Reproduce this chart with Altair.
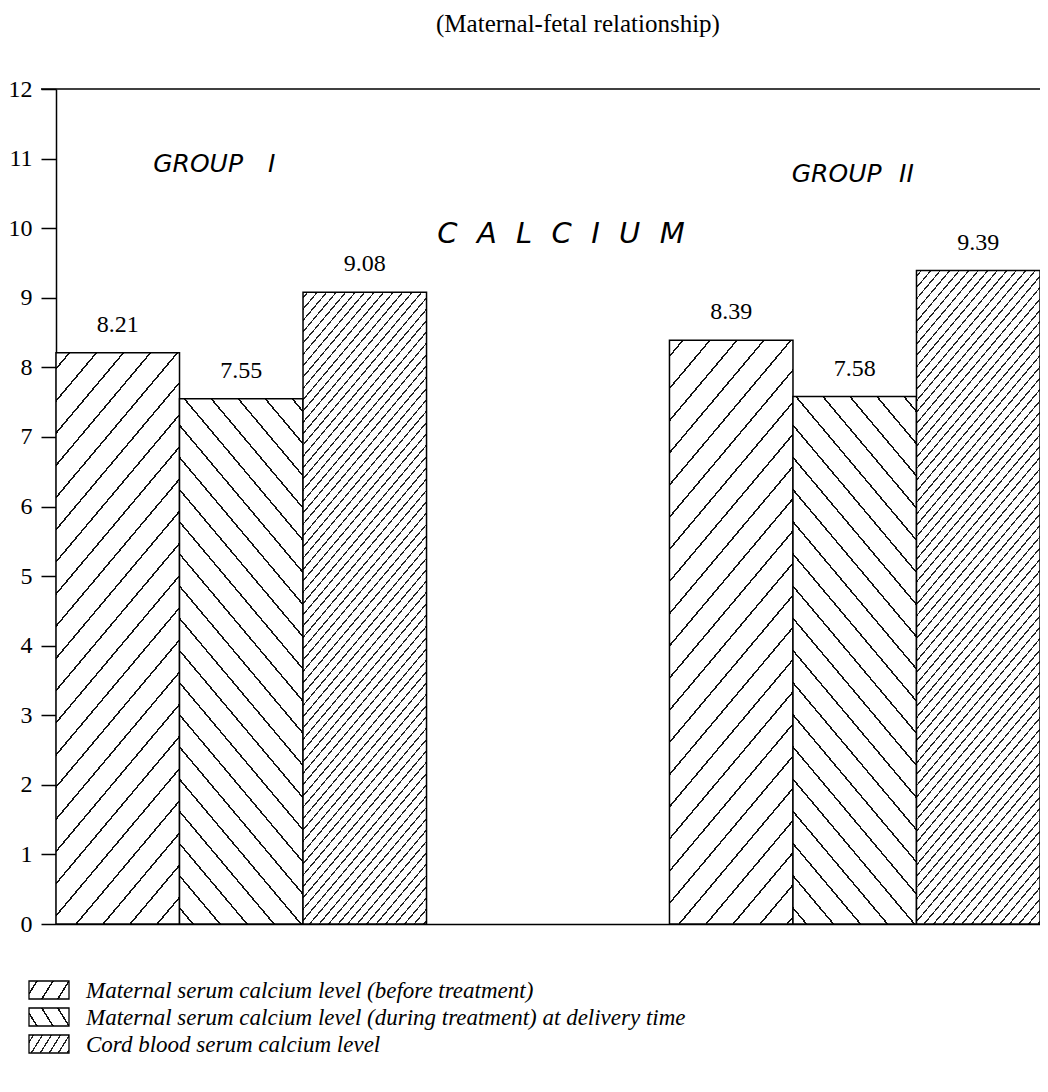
import math
import pandas as pd
import altair as alt

# ---------------- data ----------------
groups = ["GROUP I", "GROUP II"]
series = [
    "Maternal serum calcium level (before treatment)",
    "Maternal serum calcium level (during treatment) at delivery time",
    "Cord blood serum calcium level",
]
group1_values = [8.21, 7.55, 9.08]
group2_values = [8.39, 7.58, 9.39]
y_ticks = list(range(0, 13))
annotation_text = ["GROUP\u2003I", "GROUP\u2002\u2009II"]
annotation_y = [10.81, 10.66]
center_label = "C\u2002\u2006A\u2002\u2006L\u2002\u2006C\u2002\u2006I\u2002\u2006U\u2002\u2006M"
center_label_y = 9.79
title_text = "(Maternal-fetal relationship)"

rows = []
for g, vals in zip(groups, [group1_values, group2_values]):
    for s, v in zip(series, vals):
        rows.append({"group": g, "series": s, "value": v})
df = pd.DataFrame(rows)

# ---------------- geometry / style ----------------
W, H = 984, 835
PAD_INNER = 0.396
step = W / (2 - PAD_INNER)
band = step * (1 - PAD_INNER)
bar_w = band / 3
px_per_unit = H / 12.0


def hatch(w, h, direction, spacing, lw, color, theta=50.0, phase=0.5):
    th = math.radians(theta)
    s, c = math.sin(th), math.cos(th)
    L = w * s + h * c
    k = L / (w * w * s * s + h * h * c * c)
    a, b = k * w * s, k * h * c
    if direction == "/":
        x1, y1, x2, y2 = 0.0, 0.0, a, b
    else:
        x1, y1, x2, y2 = 0.0, 1.0, a, 1.0 - b
    p = spacing * s / L
    d = lw / 2.0 / L
    stops = [alt.GradientStop(offset=0.0, color="white")]
    center = phase * p
    while center < 1.0:
        lo = max(0.0, center - d)
        hi = min(1.0, center + d)
        stops += [
            alt.GradientStop(offset=round(lo, 5), color="white"),
            alt.GradientStop(offset=round(lo, 5), color=color),
            alt.GradientStop(offset=round(hi, 5), color=color),
            alt.GradientStop(offset=round(hi, 5), color="white"),
        ]
        center += p
    stops.append(alt.GradientStop(offset=1.0, color="white"))
    return alt.LinearGradient(gradient="linear", stops=stops,
                              x1=x1, y1=y1, x2=x2, y2=y2)


patterns = [
    dict(direction="/", spacing=27, lw=1.5, color="#111111"),
    dict(direction="\\", spacing=27, lw=1.5, color="#111111"),
    dict(direction="/", spacing=9.5, lw=1.2, color="#222222"),
]

xscale = alt.Scale(domain=groups, paddingInner=PAD_INNER, paddingOuter=0)
offscale = alt.Scale(domain=series, paddingInner=0, paddingOuter=0)
yscale = alt.Scale(domain=[0, 12], nice=False, zero=True)

yaxis = alt.Axis(values=y_ticks, tickSize=15, tickWidth=1.5, tickColor="black",
                 domainColor="black", domainWidth=1.5, labelFont="Liberation Serif",
                 labelFontSize=24, labelColor="black", labelPadding=9, grid=False,
                 title=None, format="d")
xaxis = alt.Axis(labels=False, ticks=False, domain=True, domainColor="black",
                 domainWidth=1.5, title=None, grid=False)

X = alt.X("group:N", scale=xscale, axis=xaxis)
XO = alt.XOffset("series:N", scale=offscale)
Y = alt.Y("value:Q", scale=yscale, axis=yaxis)

base = alt.Chart(df)
layers = []

# bars, one layer per bar so that each hatch is fitted to its own size
for g in groups:
    for i, s in enumerate(series):
        v = float(df[(df.group == g) & (df.series == s)].value.iloc[0])
        grad = hatch(bar_w, v * px_per_unit, **patterns[i])
        layers.append(
            base.transform_filter(
                (alt.datum.group == g) & (alt.datum.series == s)
            ).mark_bar(fill=grad, stroke="black", strokeWidth=1.5)
            .encode(x=X, xOffset=XO, y=Y)
        )

# top frame line at 12
layers.append(
    base.transform_filter(alt.datum.series == series[0])
    .transform_filter(alt.datum.group == groups[0])
    .mark_rule(color="black", strokeWidth=1.5)
    .encode(y=alt.datum(12), x=alt.value(-15), x2=alt.value(W))
)

# value labels
layers.append(
    base.mark_text(font="Liberation Serif", fontSize=24, baseline="alphabetic",
                   dy=-21, color="black")
    .encode(x=X, xOffset=XO, y=Y, text=alt.Text("value:Q", format=".2f"))
)

# group annotations
anno_dx = [-27, -2]
for g, t, yv, dxv in zip(groups, annotation_text, annotation_y, anno_dx):
    adf = pd.DataFrame({"group": [g], "value": [yv], "label": [t]})
    layers.append(
        alt.Chart(adf).mark_text(font="DejaVu Sans", fontStyle="oblique",
                                 fontSize=25, baseline="alphabetic", dx=dxv,
                                 color="black")
        .encode(x=X, y=Y, text="label:N")
    )

# center label
cdf = pd.DataFrame({"value": [center_label_y], "label": [center_label]})
layers.append(
    alt.Chart(cdf).mark_text(font="DejaVu Sans", fontStyle="oblique", fontSize=29,
                             baseline="alphabetic", color="black")
    .encode(x=alt.value(505), y=Y, text="label:N")
)

# legend (drawn below the plot area)
for i, s in enumerate(series):
    ldf = pd.DataFrame({"series": [s]})
    top = H + 57 + i * 27
    pat = dict(patterns[i])
    pat["spacing"] = [16, 16, 9][i]
    grad = hatch(40, 18, theta=58, **pat)
    layers.append(
        alt.Chart(ldf).mark_rect(fill=grad, stroke="black", strokeWidth=1.3)
        .encode(x=alt.value(-27), x2=alt.value(13), y=alt.value(top),
                y2=alt.value(top + 18))
    )
    layers.append(
        alt.Chart(ldf).mark_text(font="Liberation Serif", fontStyle="italic",
                                 fontSize=23, align="left", baseline="middle",
                                 color="black")
        .encode(x=alt.value(30), y=alt.value(top + 10), text="series:N")
    )

chart = alt.layer(*layers).properties(
    width=W,
    height=H,
    title=alt.Title(title_text, font="Liberation Serif", fontSize=25,
                    fontWeight="normal", color="black", anchor="middle",
                    dx=30, offset=40),
    autosize=alt.AutoSizeParams(type="none"),
    padding={"left": 48, "top": 81, "right": 0, "bottom": 140},
).configure_view(stroke=None)

chart.save("out.html", embed_options={"renderer": "svg", "actions": False})
